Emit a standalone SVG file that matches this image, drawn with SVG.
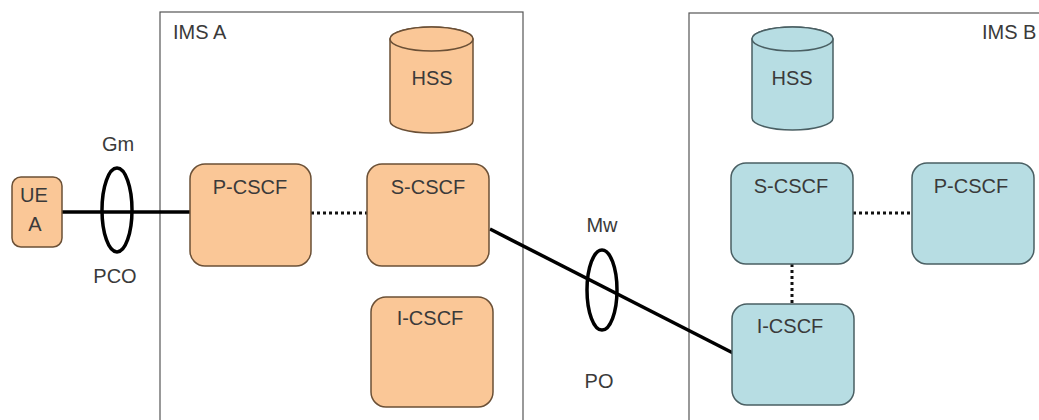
<svg xmlns="http://www.w3.org/2000/svg" width="1039" height="420" viewBox="0 0 1039 420">
<style>
text{font-family:"Liberation Sans",Arial,sans-serif;font-size:20px;fill:#3a3a3a;}
.domain{fill:none;stroke:#555;stroke-width:1.2;}
.oa{fill:#FAC797;stroke:#6b5036;stroke-width:1.5;}
.bl{fill:#B7DDE3;stroke:#4a5f63;stroke-width:1.5;}
.solid{fill:none;stroke:#000;stroke-width:3.5;}
.dot{fill:none;stroke:#111;stroke-width:3;stroke-dasharray:3 3;}
.ring{fill:none;stroke:#000;stroke-width:3.5;}
</style>
<rect width="1039" height="420" fill="#fff"/>
<g id="ims-a">
<rect class="domain" x="160" y="12" width="363" height="420"/>
<text x="173" y="39">IMS A</text>
</g>
<g id="ims-b">
<rect class="domain" x="689" y="13" width="360" height="420"/>
<text x="982" y="39">IMS B</text>
</g>
<g id="connectors">
<line class="solid" x1="62" y1="212" x2="190" y2="212"/>
<line class="solid" x1="490" y1="229" x2="733" y2="353"/>
<line class="dot" x1="311" y1="213" x2="367" y2="213"/>
<line class="dot" x1="853" y1="213" x2="912" y2="213"/>
<line class="dot" x1="792" y1="264" x2="792" y2="304"/>
<ellipse class="ring" cx="117" cy="210" rx="15" ry="42"/>
<ellipse class="ring" cx="602" cy="290" rx="15" ry="40"/>
<text x="118" y="151" text-anchor="middle">Gm</text>
<text x="115" y="283" text-anchor="middle">PCO</text>
<text x="602" y="232" text-anchor="middle">Mw</text>
<text x="599" y="388" text-anchor="middle">PO</text>
</g>
<g id="ue-a">
<rect class="oa" x="12" y="177" width="50" height="70" rx="9"/>
<text x="34" y="202" text-anchor="middle">UE</text>
<text x="35" y="231" text-anchor="middle">A</text>
</g>
<g id="hss-a">
<path class="oa" d="M390,39 A41.5,12 0 0 1 473,39 V121 A41.5,12 0 0 1 390,121 Z"/>
<ellipse class="oa" cx="431.5" cy="39" rx="41.5" ry="12"/>
<text x="432" y="85" text-anchor="middle">HSS</text>
</g>
<g id="pcscf-a">
<rect class="oa" x="190" y="164" width="121" height="102" rx="15"/>
<text x="250" y="194" text-anchor="middle">P-CSCF</text>
</g>
<g id="scscf-a">
<rect class="oa" x="367" y="164" width="122" height="102" rx="15"/>
<text x="428" y="194" text-anchor="middle">S-CSCF</text>
</g>
<g id="icscf-a">
<rect class="oa" x="371" y="297" width="122" height="110" rx="15"/>
<text x="430" y="325" text-anchor="middle">I-CSCF</text>
</g>
<g id="hss-b">
<path class="bl" d="M752,39 A40.5,12 0 0 1 833,39 V118 A40.5,12 0 0 1 752,118 Z"/>
<ellipse class="bl" cx="792.5" cy="39" rx="40.5" ry="12"/>
<text x="792" y="85" text-anchor="middle">HSS</text>
</g>
<g id="scscf-b">
<rect class="bl" x="731" y="163" width="122" height="101" rx="15"/>
<text x="791" y="193" text-anchor="middle">S-CSCF</text>
</g>
<g id="pcscf-b">
<rect class="bl" x="912" y="163" width="122" height="101" rx="15"/>
<text x="971" y="193" text-anchor="middle">P-CSCF</text>
</g>
<g id="icscf-b">
<rect class="bl" x="732" y="304" width="122" height="101" rx="15"/>
<text x="790" y="333" text-anchor="middle">I-CSCF</text>
</g>
</svg>
